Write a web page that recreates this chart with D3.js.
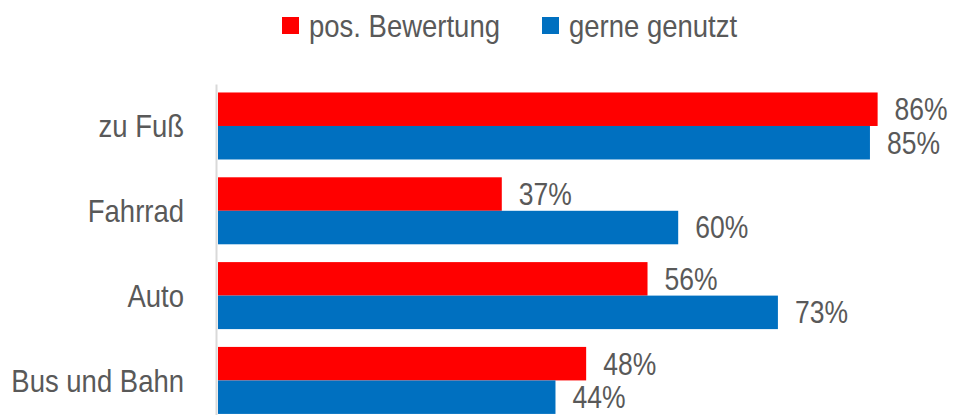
<!DOCTYPE html>
<html>
<head>
<meta charset="utf-8">
<script src="https://cdn.jsdelivr.net/npm/d3@7"></script>
<style>
  body { margin: 0; background: #fff; }
  svg text { font-family: "Liberation Sans", Arial, sans-serif; fill: #595959; }
</style>
</head>
<body>
<div id="chart"></div>
<script>
var categories = ["zu Fuß", "Fahrrad", "Auto", "Bus und Bahn"];
var seriesNames = ["pos. Bewertung", "gerne genutzt"];
var posBewertung = [86, 37, 56, 48];
var gerneGenutzt = [85, 60, 73, 44];
var colors = ["#ff0000", "#0070c0"];

function init() {
    var width = 953, height = 415;
    var stretch = "scale(1,1.17)";

    var svg = d3.select("#chart")
        .append("svg")
        .attr("width", width)
        .attr("height", height);

    var rows = categories.map(function (c, i) {
        return { cat: c, values: [posBewertung[i], gerneGenutzt[i]] };
    });

    var x = d3.scaleLinear()
        .domain([0, 100])
        .range([218, 985]);

    var y = d3.scaleBand()
        .domain(categories)
        .range([84, 422.4])
        .paddingInner(0.21)
        .paddingOuter(0.1);

    var ySub = d3.scaleBand()
        .domain(d3.range(seriesNames.length))
        .range([0, y.bandwidth()]);

    // category axis
    var yAxis = svg.append("g")
        .attr("transform", "translate(216,0)")
        .call(d3.axisLeft(y).tickSize(0).tickSizeOuter(0).tickPadding(32));
    yAxis.select(".domain")
        .attr("stroke", "#d9d9d9")
        .attr("stroke-width", 2);
    yAxis.selectAll(".tick text")
        .attr("dy", null)
        .attr("dominant-baseline", "central")
        .attr("transform", stretch)
        .style("font-size", "27.5px")
        .style("fill", "#595959")
        .style("font-family", "'Liberation Sans', Arial, sans-serif");

    var groups = svg.selectAll(".grp")
        .data(rows)
        .enter()
        .append("g")
        .attr("class", "grp")
        .attr("transform", function (d) { return "translate(0," + y(d.cat) + ")"; });

    groups.selectAll("rect")
        .data(function (d) { return d.values; })
        .enter()
        .append("rect")
        .attr("x", x(0))
        .attr("y", function (d, i) { return ySub(i); })
        .attr("width", function (d) { return x(d) - x(0); })
        .attr("height", ySub.bandwidth())
        .attr("fill", function (d, i) { return colors[i]; });

    groups.selectAll(".lbl")
        .data(function (d) { return d.values; })
        .enter()
        .append("text")
        .attr("class", "lbl")
        .attr("transform", function (d, i) {
            return "translate(" + (x(d) + 17) + "," + (ySub(i) + ySub.bandwidth() / 2) + ") scale(1,1.2)";
        })
        .attr("dominant-baseline", "central")
        .style("font-size", "26.5px")
        .text(function (d) { return d + "%"; });

    // legend
    var legendX = [282, 542];
    var legend = svg.selectAll(".legend")
        .data(seriesNames)
        .enter()
        .append("g")
        .attr("class", "legend")
        .attr("transform", function (d, i) { return "translate(" + legendX[i] + ",17)"; });

    legend.append("rect")
        .attr("width", 17)
        .attr("height", 17)
        .attr("fill", function (d, i) { return colors[i]; });

    legend.append("text")
        .attr("transform", "translate(27,8.5) " + stretch)
        .attr("dominant-baseline", "central")
        .style("font-size", "27.5px")
        .text(function (d) { return d; });
}

window.onload = init;
</script>
</body>
</html>
